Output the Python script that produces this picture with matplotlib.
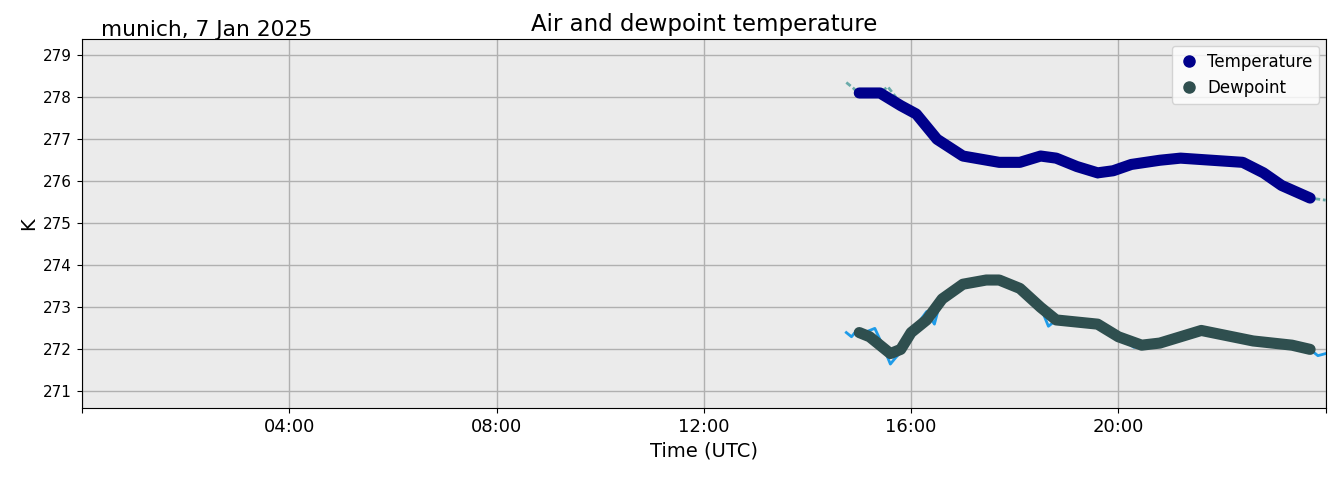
import matplotlib
matplotlib.use("Agg")
import matplotlib.pyplot as plt
from matplotlib.lines import Line2D

t_hours = [15.0,15.4,15.8,16.1,16.5,17.0,17.7,18.1,18.5,18.8,19.2,19.6,19.9,20.25,20.8,21.2,21.8,22.4,22.8,23.15,23.7]
t_vals = [278.1,278.1,277.8,277.6,277.0,276.6,276.45,276.45,276.6,276.55,276.35,276.2,276.25,276.4,276.5,276.55,276.5,276.45,276.2,275.9,275.6]
t_raw_hours = [14.75,14.9,15.0,15.4,15.55,15.8,16.1,16.5,17.0,17.7,18.1,18.5,18.8,19.2,19.6,19.9,20.25,20.8,21.2,21.8,22.4,22.8,23.15,23.7,24.0]
t_raw_vals = [278.35,278.2,278.05,278.1,278.25,277.85,277.65,276.9,276.6,276.4,276.45,276.6,276.55,276.35,276.1,276.25,276.4,276.5,276.6,276.5,276.45,276.2,275.9,275.6,275.55]

d_hours = [15.0,15.2,15.6,15.8,16.0,16.3,16.6,17.0,17.45,17.7,18.1,18.5,18.8,19.2,19.6,20.0,20.45,20.8,21.2,21.6,22.0,22.6,23.35,23.7]
d_vals = [272.4,272.3,271.9,272.0,272.4,272.7,273.2,273.55,273.65,273.65,273.45,273.0,272.7,272.65,272.6,272.3,272.1,272.15,272.3,272.45,272.35,272.2,272.1,272.0]
d_raw_hours = [14.75,14.85,14.95,15.1,15.3,15.45,15.6,15.7,15.85,16.0,16.3,16.45,16.6,17.0,17.45,17.7,18.1,18.5,18.65,18.8,19.2,19.6,20.0,20.3,20.45,20.8,21.2,21.6,22.0,22.6,23.35,23.7,23.85,24.0]
d_raw_vals = [272.4,272.3,272.45,272.4,272.5,272.1,271.65,271.8,272.0,272.4,272.9,272.6,273.3,273.6,273.7,273.65,273.45,273.0,272.55,272.7,272.65,272.6,272.3,272.05,272.1,272.15,272.35,272.45,272.35,272.2,272.1,272.0,271.85,271.9]

xticks = [0,4,8,12,16,20,24]
xticklabels = ["","04:00","08:00","12:00","16:00","20:00",""]

fig, ax = plt.subplots(figsize=(13.35,4.78), dpi=100)
fig.subplots_adjust(left=0.0614, right=0.993, top=0.918, bottom=0.146)
ax.set_facecolor("#ebebeb")
ax.grid(True, color="#b0b0b0", linewidth=1)
ax.set_axisbelow(True)

ax.plot(t_raw_hours, t_raw_vals, color="#6aabaa", lw=2, ls=(0,(2,1)))
ax.plot(d_raw_hours, d_raw_vals, color="#1e9be8", lw=2)
ax.plot(t_hours, t_vals, color="#00008b", lw=8, solid_capstyle="round", solid_joinstyle="round")
ax.plot(d_hours, d_vals, color="#2f4f4f", lw=8, solid_capstyle="round", solid_joinstyle="round")

ax.set_xlim(0,24)
ax.set_ylim(270.6,279.38)
ax.set_yticks(range(271,280))
ax.set_xticks(xticks)
ax.set_xticklabels(xticklabels, fontsize=13)
ax.tick_params(axis="y", labelsize=11)
ax.set_xlabel("Time (UTC)", fontsize=14)
ax.set_ylabel("K", fontsize=14)
ax.set_title("Air and dewpoint temperature", fontsize=16.5)
fig.text(0.0757, 0.925, "munich, 7 Jan 2025", fontsize=15.7)

handles = [Line2D([],[],marker="o",ls="",color="#00008b",markersize=8,label="Temperature"),
           Line2D([],[],marker="o",ls="",color="#2f4f4f",markersize=8,label="Dewpoint")]
ax.legend(handles=handles, loc="upper right", fontsize=12, handlelength=1.2, handletextpad=0.5, borderaxespad=0.4)
fig.savefig("out.png", dpi=100)
